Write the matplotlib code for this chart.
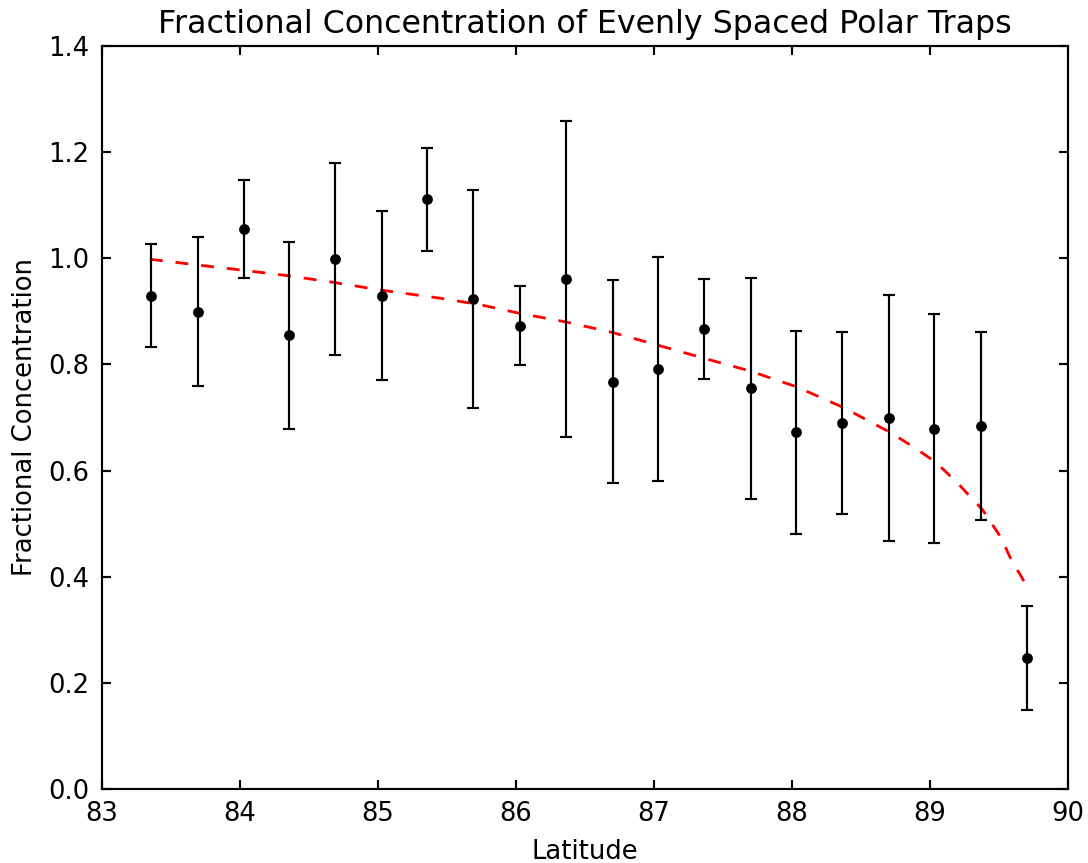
import matplotlib
matplotlib.use("Agg")
import matplotlib.pyplot as plt

# measured points (latitude bins) with symmetric error bars
latitude = [83.36, 83.70, 84.03, 84.36, 84.69, 85.03, 85.36, 85.69, 86.03, 86.36,
            86.70, 87.03, 87.36, 87.70, 88.03, 88.36, 88.70, 89.03, 89.37, 89.70]
fraction = [0.929, 0.899, 1.055, 0.855, 0.999, 0.929, 1.111, 0.923, 0.873, 0.961,
            0.767, 0.791, 0.867, 0.755, 0.672, 0.690, 0.699, 0.679, 0.684, 0.248]
fraction_err = [0.097, 0.140, 0.093, 0.176, 0.181, 0.159, 0.097, 0.205, 0.074, 0.297,
                0.191, 0.211, 0.094, 0.208, 0.191, 0.171, 0.231, 0.215, 0.177, 0.098]

# dashed model curve
model_lat = [83.35, 83.70, 84.00, 84.35, 84.69, 85.02, 85.44, 85.73, 86.03, 86.36, 86.70,
             87.03, 87.37, 87.69, 88.03, 88.37, 88.71, 88.87, 89.04, 89.20, 89.38, 89.51,
             89.60, 89.65, 89.70]
model_frac = [0.998, 0.987, 0.978, 0.967, 0.954, 0.940, 0.925, 0.913, 0.896, 0.880, 0.860,
              0.836, 0.811, 0.788, 0.758, 0.719, 0.672, 0.646, 0.616, 0.576, 0.526, 0.475,
              0.425, 0.405, 0.382]

plt.rcParams['font.family'] = ['DejaVu Sans']
plt.rcParams['lines.scale_dashes'] = False

dpi = 155
W, H = 1088, 863
fig = plt.figure(figsize=(W / dpi, H / dpi), dpi=dpi, facecolor='white')
ax = fig.add_axes([101.5 / W, (H - 789.3) / H, 966.8 / W, 743.6 / H])

ax.plot(model_lat, model_frac, color='red', linestyle='--', dashes=(6, 6), linewidth=1.3)
ax.errorbar(latitude, fraction, yerr=fraction_err, fmt='o', color='black', markersize=4,
            capsize=3, elinewidth=1, capthick=1)

ax.set_xlim(83, 90)
ax.set_ylim(0, 1.4)
ax.set_xticks(range(83, 91))
ax.set_yticks([0.0, 0.2, 0.4, 0.6, 0.8, 1.0, 1.2, 1.4])
ax.tick_params(direction='in', top=True, right=True, length=4, width=1, labelsize=12, pad=5.5)
for s in ax.spines.values():
    s.set_linewidth(1)

ax.set_xlabel('Latitude', fontsize=12, labelpad=5.5)
ax.set_ylabel('Fractional Concentration', fontsize=12, labelpad=5)
ax.set_title('Fractional Concentration of Evenly Spaced Polar Traps', fontsize=14.7)

fig.savefig('out.png', dpi=dpi)
